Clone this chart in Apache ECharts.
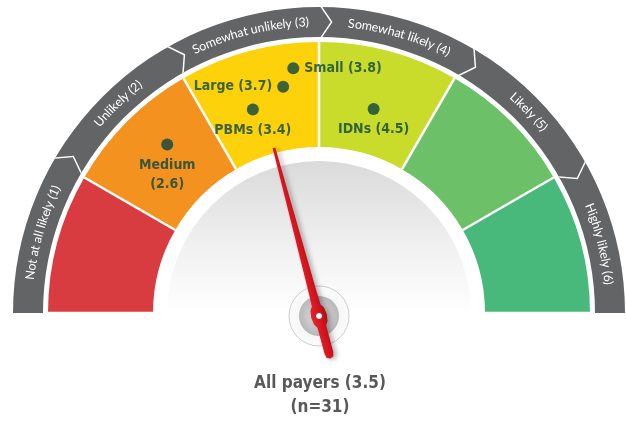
<!DOCTYPE html>
<html>
<head>
<meta charset="utf-8">
<script src="https://cdn.jsdelivr.net/npm/echarts@6/dist/echarts.min.js"></script>
<style>
  html, body { margin: 0; padding: 0; background: #fff; }
  #chart { width: 626px; height: 421px; }
</style>
</head>
<body>
<div id="chart"></div>
<script>
const scaleLabels = [
  "Not at all likely (1)",
  "Unlikely (2)",
  "Somewhat unlikely (3)",
  "Somewhat likely (4)",
  "Likely (5)",
  "Highly likely (6)",
];
const scaleColors = ["#d83c41", "#f4921f", "#fdd20a", "#c9dc2b", "#6cc067", "#48b97a"];

const groupNames = ["Medium", "PBMs", "Large", "Small", "IDNs"];
const groupScores = [2.6, 3.4, 3.7, 3.8, 4.5];
// how far out each dot sits, as a share of the coloured band's outer radius
const groupDotRadius = [0.837, 0.79, 0.845, 0.908, 0.779];
const groupLabelSide = ["bottom", "bottom", "left", "right", "bottom"];
const wrappedLabels = ["Medium"];

const allPayersScore = 3.5;
const allPayersN = 31;

const CX = 319;
const CY = 313;
const HUB_Y = 316;
const BAND_OUT = 271;
const BAND_W = 105;
const RING_OUT = 306;
const RING_W = 30;
const DISK_R = 152;
const SCALE_MIN = 1;
const SCALE_MAX = 7;
const LABEL_STEPS = 1800;
const RING_FONT = 12.5;
const RING_FAMILY = "Lato";
const DARK = "#0b4640";
const BOLD_FAMILY = "'DejaVu Sans Condensed', Lato, sans-serif";

const NEEDLE_PATH = "path://M6.6 0L9.4 0L12 150L12.5 163L15 167L16 174L15 181L12.5 185L12.5 212L11.5 216.5L8 218L4.5 216.5L3.5 212L3.5 185L1 181L0 174L1 167L3.5 163L4 150Z";
const CHEVRON_PATH = "path://M0 0L1.8 0L12 15L1.8 30L0 30L10.2 15Z";

// place every character of the ring captions on its own step of a hidden gauge axis
function buildRingChars(radius) {
  const ctx = document.createElement("canvas").getContext("2d");
  ctx.font = `${RING_FONT}px ${RING_FAMILY}`;
  const chars = {};
  scaleLabels.forEach((text, i) => {
    const midDeg = (i + 0.5) / scaleLabels.length * 180 + 1.2;
    const total = ctx.measureText(text).width;
    for (let j = 0; j < text.length; j++) {
      const ch = text[j];
      if (ch === " ") continue;
      const s = ctx.measureText(text.slice(0, j)).width + ctx.measureText(ch).width / 2 - total / 2;
      let idx = Math.round((midDeg + (s / radius) * 180 / Math.PI) / 180 * LABEL_STEPS);
      if (idx === LABEL_STEPS / 2) idx += 1;
      chars[idx] = ch;
    }
  });
  return chars;
}

function gaugeBase(extra) {
  return Object.assign({
    type: "gauge",
    z: 3,
    center: [CX, CY],
    startAngle: 180,
    endAngle: 0,
    min: SCALE_MIN,
    max: SCALE_MAX,
    silent: true,
    animation: false,
    axisLine: { show: false, lineStyle: { width: 0 } },
    splitLine: { show: false },
    axisTick: { show: false },
    axisLabel: { show: false },
    pointer: { show: false },
    anchor: { show: false },
    progress: { show: false },
    title: { show: false },
    detail: { show: false },
    data: [],
  }, extra);
}

function renderChart() {
  const chart = echarts.init(document.getElementById("chart"));
  const ringRadius = RING_OUT - RING_W / 2;
  const ringChars = buildRingChars(ringRadius);
  const boundaries = scaleLabels.slice(1).map((_, i) => ({ value: SCALE_MIN + i + 1 }));

  chart.setOption({
    animation: false,
    title: {
      text: `All payers (${allPayersScore})\n(n=${allPayersN})`,
      left: CX + 1,
      top: 372,
      padding: 0,
      textAlign: "center",
      textStyle: {
        color: "#58595b",
        fontSize: 17,
        fontWeight: "bold",
        fontFamily: BOLD_FAMILY,
        lineHeight: 24,
      },
    },
    polar: { center: [CX, CY], radius: BAND_OUT },
    angleAxis: {
      type: "value",
      min: SCALE_MIN,
      max: SCALE_MIN + 2 * (SCALE_MAX - SCALE_MIN),
      startAngle: 180,
      clockwise: true,
      show: false,
    },
    radiusAxis: { type: "value", min: 0, max: 1, show: false },
    series: [
      {
        type: "pie",
        z: 1,
        center: [CX, CY],
        radius: [0, DISK_R],
        startAngle: 180,
        silent: true,
        label: { show: false },
        labelLine: { show: false },
        data: [
          {
            value: 1,
            itemStyle: {
              color: {
                type: "linear", x: 0, y: 0, x2: 0, y2: 1,
                colorStops: [
                  { offset: 0, color: "#dadada" },
                  { offset: 0.6, color: "#f2f2f2" },
                  { offset: 1, color: "#ffffff" },
                ],
              },
            },
          },
          { value: 1, itemStyle: { color: "rgba(0,0,0,0)" } },
        ],
      },
      gaugeBase({
        radius: BAND_OUT,
        splitNumber: scaleColors.length,
        axisLine: {
          show: true,
          lineStyle: {
            width: BAND_W,
            color: scaleColors.map((c, i) => [(i + 1) / scaleColors.length, c]),
          },
        },
        splitLine: {
          show: true,
          length: BAND_W,
          distance: -BAND_W,
          lineStyle: { color: "#ffffff", width: 2.5 },
        },
      }),
      gaugeBase({
        radius: RING_OUT,
        axisLine: { show: true, lineStyle: { width: RING_W, color: [[1, "#636466"]] } },
      }),
      gaugeBase({
        radius: RING_OUT,
        pointer: {
          show: true,
          icon: CHEVRON_PATH,
          length: RING_W,
          width: 12,
          offsetCenter: [7.5, -(RING_OUT - RING_W)],
          itemStyle: { color: "#ffffff" },
        },
        data: boundaries,
      }),
      gaugeBase({
        radius: ringRadius,
        min: 0,
        max: LABEL_STEPS,
        splitNumber: LABEL_STEPS,
        splitLine: { show: false, length: 0, distance: 0 },
        axisLabel: {
          show: true,
          distance: 0,
          rotate: "tangential",
          color: "#ffffff",
          fontSize: RING_FONT,
          fontFamily: RING_FAMILY,
          formatter: (v) => ringChars[Math.round(v)] || "",
        },
      }),
      gaugeBase({
        z: 4,
        center: [CX, HUB_Y],
        anchor: {
          show: true,
          size: 60,
          itemStyle: {
            color: {
              type: "radial", x: 0.5, y: 0.5, r: 0.5,
              colorStops: [
                { offset: 0, color: "#eeeeee" },
                { offset: 1, color: "#fbfbfb" },
              ],
            },
            borderColor: "#cccccc",
            borderWidth: 1,
          },
        },
      }),
      gaugeBase({
        z: 4,
        center: [CX, HUB_Y],
        anchor: {
          show: true,
          size: 40,
          itemStyle: {
            color: {
              type: "radial", x: 0.5, y: 0.5, r: 0.5,
              colorStops: [
                { offset: 0, color: "#e2e2e2" },
                { offset: 1, color: "#b8b8b8" },
              ],
            },
          },
        },
      }),
      gaugeBase({
        z: 5,
        center: [CX, HUB_Y],
        pointer: {
          show: true,
          icon: NEEDLE_PATH,
          length: 218,
          width: 16,
          offsetCenter: [0, 44],
          itemStyle: {
            color: {
              type: "linear", x: 0, y: 0, x2: 1, y2: 0,
              colorStops: [
                { offset: 0, color: "#e8232c" },
                { offset: 0.55, color: "#d4141d" },
                { offset: 1, color: "#a90f16" },
              ],
            },
            shadowColor: "rgba(0,0,0,0.3)",
            shadowBlur: 5,
            shadowOffsetX: 3,
            shadowOffsetY: 1,
          },
        },
        anchor: {
          show: true,
          showAbove: true,
          size: 7,
          itemStyle: { color: "#ffffff", borderColor: "#a8131a", borderWidth: 1 },
        },
        data: [{ value: allPayersScore }],
      }),
      {
        type: "scatter",
        z: 6,
        coordinateSystem: "polar",
        silent: true,
        symbolSize: 12,
        itemStyle: { color: DARK },
        label: {
          show: true,
          color: DARK,
          fontSize: 14,
          fontWeight: "bold",
          fontFamily: BOLD_FAMILY,
          lineHeight: 19,
          distance: 5,
          formatter: (p) => {
            const sep = wrappedLabels.includes(p.name) ? "\n" : " ";
            return `${p.name}${sep}(${p.value[1]})`;
          },
        },
        data: groupNames.map((name, i) => ({
          name,
          value: [groupDotRadius[i], groupScores[i]],
          label: { position: groupLabelSide[i] },
        })),
      },
    ],
  });
}

document.addEventListener("DOMContentLoaded", renderChart);
</script>
</body>
</html>
